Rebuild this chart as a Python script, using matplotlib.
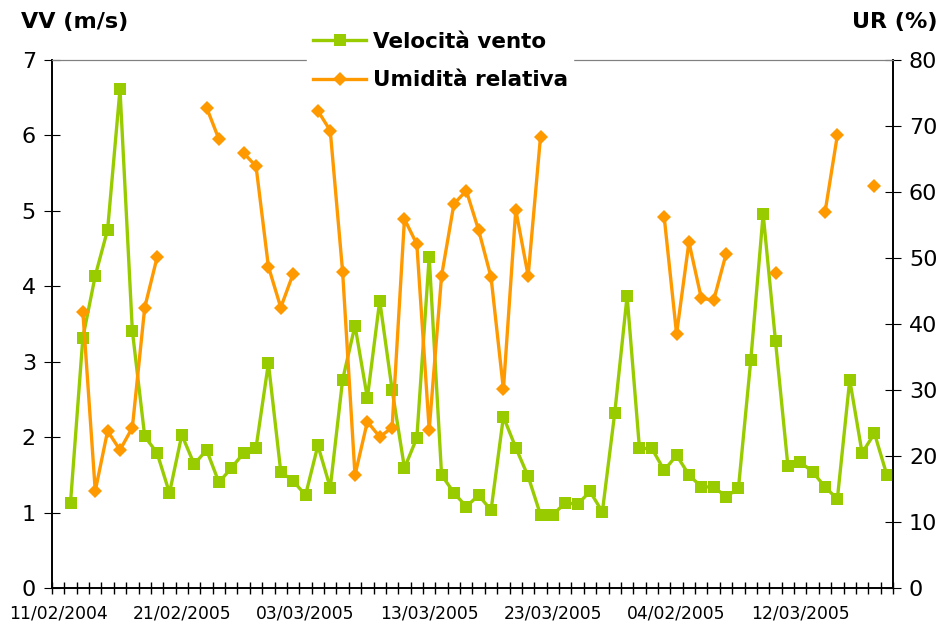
import numpy as np
import matplotlib.pyplot as plt

nan = np.nan

# wind speed (m/s), one value per category, first category empty
vento = [nan, 1.13, 3.32, 4.14, 4.75, 6.61, 3.41, 2.01, 1.79, 1.26, 2.03,
         1.64, 1.83, 1.40, 1.59, 1.79, 1.86, 2.98, 1.54, 1.42, 1.23,
         1.89, 1.33, 2.76, 3.48, 2.52, 3.81, 2.63, 1.59, 1.99, 4.39,
         1.50, 1.26, 1.08, 1.23, 1.03, 2.27, 1.86, 1.48, 0.97, 0.97,
         1.13, 1.11, 1.28, 1.01, 2.32, 3.87, 1.85, 1.85, 1.56, 1.76,
         1.50, 1.34, 1.34, 1.21, 1.32, 3.02, 4.96, 3.27, 1.62, 1.67,
         1.54, 1.34, 1.18, 2.76, 1.79, 2.05, 1.50]

# relative humidity (%)
umidita = [nan, nan, 41.8, 14.7, 23.8, 20.9, 24.3, 42.5, 50.1, nan, nan,
           nan, 72.8, 68.0, nan, 65.9, 63.9, 48.7, 42.5, 47.6, nan,
           72.3, 69.3, 47.9, 17.1, 25.2, 22.9, 24.3, 55.9, 52.1, 24.0,
           47.3, 58.2, 60.2, 54.2, 47.1, 30.1, 57.3, 47.3, 68.4, nan,
           nan, nan, nan, nan, nan, nan, nan, nan, 56.2, 38.5,
           52.4, 43.9, 43.6, 50.6, nan, nan, nan, 47.8, nan, nan,
           nan, 56.9, 68.6, nan, nan, 60.9, nan]

date_labels = ['11/02/2004', '21/02/2005', '03/03/2005', '13/03/2005',
               '23/03/2005', '04/02/2005', '12/03/2005']

green = '#99CC00'
orange = '#FF9900'

x = np.arange(len(vento))

fig = plt.figure(figsize=(9.43, 6.33), dpi=100)
ax = fig.add_axes([0.0551, 0.0711, 0.8919, 0.8341])
ax2 = ax.twinx()

l1, = ax.plot(x, vento, color=green, lw=2.4, marker='s', ms=9,
              markeredgewidth=0, label='Velocità vento', zorder=3)
l2, = ax2.plot(x, umidita, color=orange, lw=2.4, marker='D', ms=7.5,
               markeredgewidth=0, label='Umidità relativa', zorder=3)

ax.set_xlim(-0.5, len(vento) - 0.5)
ax.set_ylim(0, 7)
ax2.set_ylim(0, 80)

ax.set_xticks(np.arange(0, len(vento), 10))
ax.set_xticklabels(date_labels, fontsize=12.3)
ax.set_xticks(np.arange(-0.5, len(vento), 1), minor=True)
ax.tick_params(axis='x', which='major', length=0, pad=12)
ax.tick_params(axis='x', which='minor', direction='inout', length=9, width=1)

ax.set_yticks(range(0, 8))
ax.tick_params(axis='y', direction='inout', length=11, labelsize=16, pad=6)
ax2.set_yticks(range(0, 81, 10))
ax2.tick_params(axis='y', direction='inout', length=11, labelsize=16, pad=6)

for a in (ax, ax2):
    a.spines['top'].set_color('#808080')
    for s in ('left', 'right', 'bottom'):
        a.spines[s].set_linewidth(1.2)

fig.text(0.022, 0.965, 'VV (m/s)', fontsize=16, fontweight='bold', ha='left', va='center')
fig.text(0.994, 0.965, 'UR (%)', fontsize=16, fontweight='bold', ha='right', va='center')

leg = fig.legend(handles=[l1, l2], loc='center', bbox_to_anchor=(0.467, 0.9036),
                 frameon=True, fancybox=False, edgecolor='white', framealpha=1,
                 prop={'weight': 'bold', 'size': 15.5}, handlelength=2.5,
                 handletextpad=0.3, labelspacing=0.85, borderpad=0.25)

fig.savefig('out.png', dpi=100)
